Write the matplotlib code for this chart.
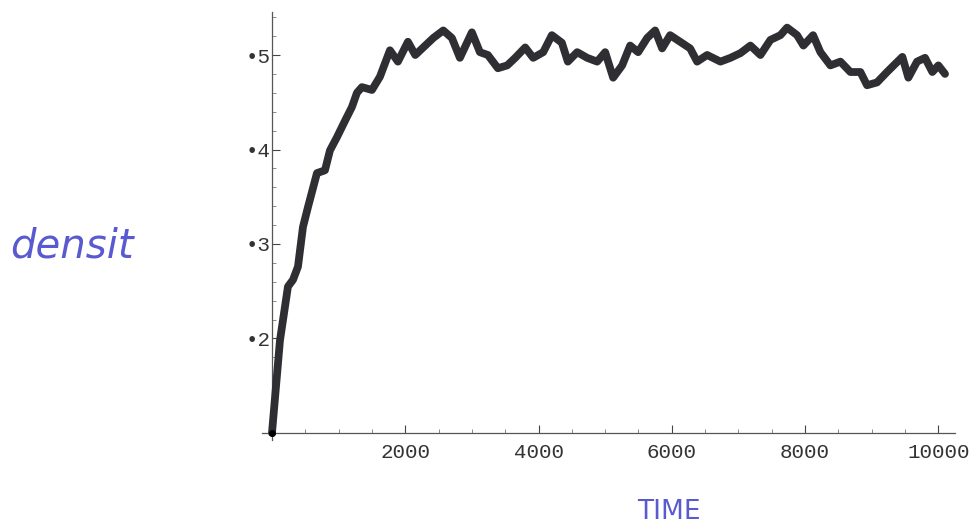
import numpy as np
import matplotlib
matplotlib.use('Agg')
import matplotlib.pyplot as plt
from matplotlib.ticker import MultipleLocator, FixedLocator

# density vs time
time = [0, 120, 240, 315, 390, 465, 540, 675, 795, 870, 975, 1100, 1200, 1275,
        1350, 1500, 1620, 1770, 1890, 2040, 2150, 2270, 2420, 2570, 2700, 2820,
        3000, 3120, 3240, 3390, 3530, 3650, 3800, 3920, 4070, 4200, 4350, 4440,
        4580, 4730, 4880, 5000, 5120, 5255, 5375, 5495, 5630, 5750, 5855, 5975,
        6125, 6275, 6380, 6530, 6730, 6880, 7030, 7180, 7330, 7480, 7630, 7730,
        7880, 7975, 8120, 8230, 8380, 8530, 8680, 8830, 8930, 9080, 9230, 9330,
        9460, 9550, 9680, 9800, 9910, 10000, 10100]
density = [1.00, 1.98, 2.55, 2.62, 2.76, 3.18, 3.39, 3.75, 3.78, 3.99, 4.13, 4.31,
           4.45, 4.60, 4.66, 4.63, 4.77, 5.05, 4.93, 5.14, 5.00, 5.08, 5.18, 5.26,
           5.18, 4.97, 5.24, 5.03, 5.00, 4.86, 4.89, 4.97, 5.08, 4.97, 5.03, 5.21,
           5.13, 4.93, 5.03, 4.97, 4.93, 5.03, 4.76, 4.89, 5.10, 5.03, 5.18, 5.26,
           5.07, 5.21, 5.14, 5.07, 4.93, 5.00, 4.93, 4.97, 5.02, 5.10, 5.00, 5.16,
           5.21, 5.29, 5.21, 5.10, 5.21, 5.03, 4.89, 4.93, 4.82, 4.82, 4.68, 4.71,
           4.82, 4.89, 4.98, 4.76, 4.93, 4.97, 4.82, 4.89, 4.80]

x_ticks = [2000, 4000, 6000, 8000, 10000]
y_ticks = [2, 3, 4, 5]
y_labels = ['•2', '•3', '•4', '•5']

fig = plt.figure(figsize=(9.75, 5.29), dpi=100)
ax = fig.add_axes([0.2687, 0.169, 0.7108, 0.8074])

ax.plot(time, density, color='#2f2f33', lw=5.6, solid_joinstyle='round',
        solid_capstyle='round', zorder=3)
ax.plot([0], [1], 'o', color='black', ms=4, zorder=4)

ax.set_xlim(-150, 10250)
ax.set_ylim(0.93, 5.45)

for s in ['top', 'right']:
    ax.spines[s].set_visible(False)
ax.spines['left'].set_position(('data', 0))
ax.spines['bottom'].set_position(('data', 1))
for s in ['left', 'bottom']:
    ax.spines[s].set_color('#555555')
    ax.spines[s].set_linewidth(0.9)

ax.xaxis.set_major_locator(FixedLocator(x_ticks))
ax.xaxis.set_minor_locator(MultipleLocator(500))
ax.yaxis.set_major_locator(FixedLocator(y_ticks))
ax.yaxis.set_minor_locator(MultipleLocator(0.2))
ax.set_yticklabels(y_labels)

mono = 'Liberation Mono'
ax.tick_params(axis='both', which='major', direction='in', length=6, width=0.8,
               color='#444444', labelsize=15, labelcolor='#333333')
ax.tick_params(axis='both', which='minor', direction='in', length=3, width=0.6,
               color='#777777')
ax.tick_params(axis='x', which='major', pad=7)
ax.tick_params(axis='y', which='major', pad=1)
for lab in ax.get_xticklabels() + ax.get_yticklabels():
    lab.set_fontfamily(mono)

# handwritten axis notes
fig.text(0.01, 0.535, 'densit', color='#5a5ad0', fontsize=29, style='italic',
         va='center', ha='left')
fig.text(0.686, 0.032, 'TIME', color='#5a5ad0', fontsize=19, va='center', ha='center')

plt.savefig('out.png', dpi=100)
plt.close()
